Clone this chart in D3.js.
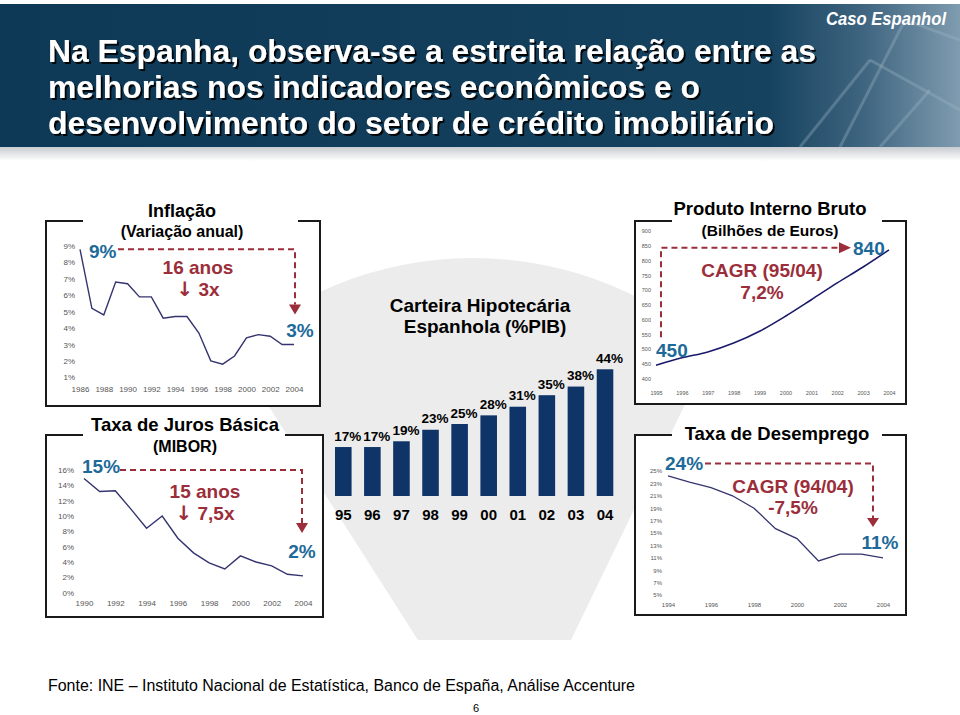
<!DOCTYPE html>
<html><head><meta charset="utf-8">
<script src="https://cdn.jsdelivr.net/npm/d3@7"></script>
<style>
html,body{margin:0;padding:0;background:#fff;}
svg{display:block;font-family:"Liberation Sans",Arial,Helvetica,sans-serif;}
</style></head><body>
<svg id="c" width="960" height="715"></svg>
<script>
// ---------- DATA ----------
const titleLines = ["Na Espanha, observa-se a estreita relação entre as",
                    "melhorias nos indicadores econômicos e o",
                    "desenvolvimento do setor de crédito imobiliário"];
const caseLabel = "Caso Espanhol";
const sourceText = "Fonte: INE – Instituto Nacional de Estatística, Banco de España, Análise Accenture";
const pageNumber = "6";

const inflationYears  = [1986,1987,1988,1989,1990,1991,1992,1993,1994,1995,1996,1997,1998,1999,2000,2001,2002,2003,2004];
const inflationValues = [8.8,5.2,4.8,6.8,6.7,5.9,5.9,4.6,4.7,4.7,3.7,2.0,1.8,2.3,3.4,3.6,3.5,3.0,3.0];
const inflationYTicks = [1,2,3,4,5,6,7,8,9];
const inflationXTicks = [1986,1988,1990,1992,1994,1996,1998,2000,2002,2004];

const interestYears  = [1990,1991,1992,1993,1994,1995,1996,1997,1998,1999,2000,2001,2002,2003,2004];
const interestValues = [14.9,13.2,13.3,10.9,8.4,10.0,7.1,5.2,3.9,3.1,4.8,4.0,3.5,2.4,2.2];
const interestYTicks = [0,2,4,6,8,10,12,14,16];
const interestXTicks = [1990,1992,1994,1996,1998,2000,2002,2004];

const mortgageYears  = ["95","96","97","98","99","00","01","02","03","04"];
const mortgageValues = [17,17,19,23,25,28,31,35,38,44];

const gdpYears  = [1995,1996,1997,1998,1999,2000,2001,2002,2003,2004];
const gdpValues = [445,470,490,520,560,611,667,724,778,836];
const gdpYTicks = [400,450,500,550,600,650,700,750,800,850,900];
const gdpXTicks = [1995,1996,1997,1998,1999,2000,2001,2002,2003,2004];

const unempYears  = [1994,1995,1996,1997,1998,1999,2000,2001,2002,2003,2004];
const unempValues = [24.2,23.2,22.3,21.0,19.0,15.7,14.1,10.5,11.6,11.6,11.0];
const unempYTicks = [5,7,9,11,13,15,17,19,21,23,25];
const unempXTicks = [1994,1996,1998,2000,2002,2004];

// ---------- STYLE ----------
const NAVY_LINE = "#34346f", BAR = "#0f3468", BLUE = "#1d6a9a", RED = "#9b2e3a", AXIS_TXT = "#555";

const svg = d3.select("#c");
const defs = svg.append("defs");

const hg = defs.append("linearGradient").attr("id","hg").attr("x1","0").attr("x2","1").attr("y1","0").attr("y2","0");
hg.append("stop").attr("offset","0").attr("stop-color","#0d3856");
hg.append("stop").attr("offset","0.80").attr("stop-color","#15425f");
hg.append("stop").attr("offset","0.90").attr("stop-color","#3f6580");
hg.append("stop").attr("offset","1").attr("stop-color","#7f9cb0");
const sg = defs.append("linearGradient").attr("id","sg").attr("x1","0").attr("x2","0").attr("y1","0").attr("y2","1");
sg.append("stop").attr("offset","0").attr("stop-color","#c8ccd0");
sg.append("stop").attr("offset","1").attr("stop-color","#ffffff");
const sh = defs.append("filter").attr("id","tshadow").attr("x","-5%").attr("y","-20%").attr("width","110%").attr("height","150%");
sh.append("feDropShadow").attr("dx",2).attr("dy",2).attr("stdDeviation",0.6)
  .attr("flood-color","#000").attr("flood-opacity",0.9);

// background grey shape
defs.append("clipPath").attr("id","vclip").append("polygon")
  .attr("points","105,150 808,150 571,640 418,640");
svg.append("circle").attr("cx",473).attr("cy",620).attr("r",362)
  .attr("fill","#ececec").attr("clip-path","url(#vclip)");

// header band
svg.append("rect").attr("x",0).attr("y",147).attr("width",960).attr("height",14).attr("fill","url(#sg)");
svg.append("rect").attr("x",0).attr("y",4).attr("width",960).attr("height",143).attr("fill","url(#hg)");
const beams = [[800,147,870,60],[870,60,960,110],[840,147,905,20],[905,20,960,40],[880,147,930,90]];
svg.append("g").selectAll("line").data(beams).join("line")
  .attr("x1",d=>d[0]).attr("y1",d=>d[1]).attr("x2",d=>d[2]).attr("y2",d=>d[3])
  .attr("stroke","#9fb4c4").attr("stroke-opacity",0.35).attr("stroke-width",3);

const titleBase = [62, 98, 134];
const titleWidth = [768, 652, 726];
const tg = svg.append("g").attr("font-family","'Liberation Sans Narrow','Liberation Sans',Arial,sans-serif")
  .attr("font-weight","bold").attr("font-size",32).attr("filter","url(#tshadow)");
titleLines.forEach((t,i)=>{
  tg.append("text").attr("x",48).attr("y",titleBase[i]).attr("fill","#fff")
    .attr("textLength",titleWidth[i]).attr("lengthAdjust","spacingAndGlyphs").text(t);
});
svg.append("text").attr("x",946).attr("y",25).attr("text-anchor","end")
  .attr("font-family","'Liberation Sans Narrow','Liberation Sans',Arial,sans-serif")
  .attr("font-style","italic").attr("font-weight","bold").attr("font-size",18).attr("fill","#fff")
  .attr("textLength",120).attr("lengthAdjust","spacingAndGlyphs").text(caseLabel);

// ---------- helpers ----------
function panelBox(l,t,r,b,g1,g2){
  svg.append("rect").attr("x",l).attr("y",t).attr("width",r-l).attr("height",b-t).attr("fill","#fff");
  svg.append("path").attr("d",`M${g1},${t}H${l}V${b}H${r}V${t}H${g2}`)
    .attr("fill","none").attr("stroke","#1a1a1a").attr("stroke-width",2);
}
function txt(x,y,s,size,opts={}){
  const t = svg.append("text").attr("x",x).attr("y",y).attr("font-size",size)
    .attr("text-anchor",opts.anchor||"middle").attr("fill",opts.fill||"#000")
    .attr("font-weight",opts.weight||"normal").text(s);
  return t;
}
function arrowTxt(x,y,s,size){
  const t = svg.append("text").attr("x",x).attr("y",y).attr("font-size",size)
    .attr("text-anchor","middle").attr("fill",RED).attr("font-weight","bold");
  t.append("tspan").attr("font-family","'DejaVu Sans',sans-serif").attr("font-size",size*1.05).text("↓");
  t.append("tspan").text(" "+s);
  return t;
}
function yAxis(scale,ticks,fmt,xRight,fs){
  const g = svg.append("g").attr("transform",`translate(${xRight},0)`)
    .call(d3.axisLeft(scale).tickValues(ticks).tickFormat(fmt).tickSize(0).tickPadding(0));
  g.select(".domain").remove();
  g.selectAll("text").attr("font-size",fs).attr("fill",AXIS_TXT).attr("font-family","'Liberation Sans',Arial,sans-serif");
}
function xAxis(scale,ticks,baseline,fs){
  const g = svg.append("g").attr("transform",`translate(0,${baseline-0.71*fs})`)
    .call(d3.axisBottom(scale).tickValues(ticks).tickFormat(d3.format("d")).tickSize(0).tickPadding(0));
  g.select(".domain").remove();
  g.selectAll("text").attr("font-size",fs).attr("fill",AXIS_TXT).attr("font-family","'Liberation Sans',Arial,sans-serif");
}
function dashed(points){
  svg.append("path").attr("d",d3.line()(points)).attr("fill","none")
    .attr("stroke",RED).attr("stroke-width",2).attr("stroke-dasharray","6,4");
}
function arrowDown(x,yBase,yTip){
  svg.append("path").attr("d",`M${x-6},${yBase}L${x+6},${yBase}L${x},${yTip}Z`).attr("fill",RED);
}
function arrowRight(xBase,xTip,y){
  svg.append("path").attr("d",`M${xBase},${y-5.5}L${xBase},${y+5.5}L${xTip},${y}Z`).attr("fill",RED);
}
const pct = d=>d+"%";

// ---------- INFLATION ----------
panelBox(46,221,320,406,83,298);
txt(182,217,"Inflação",18,{weight:"bold"});
txt(182,237,"(Variação anual)",16,{weight:"bold"});
const xI = d3.scaleLinear().domain([1986,2004]).range([80,294]);
const yI = d3.scaleLinear().domain([1,9]).range([377.3,246]);
yAxis(yI,inflationYTicks,pct,75,8);
xAxis(xI,inflationXTicks,392,8);
svg.append("path").datum(inflationYears.map((y,i)=>[y,inflationValues[i]]))
  .attr("d",d3.line().x(d=>xI(d[0])).y(d=>yI(d[1])))
  .attr("fill","none").attr("stroke",NAVY_LINE).attr("stroke-width",1.4);
{
  const yTop = yI(inflationValues[0]), xEnd = xI(2004)+1;
  dashed([[118,yTop],[xEnd,yTop],[xEnd,yI(3.0)-40]]);
  arrowDown(xEnd,yI(3.0)-40,yI(3.0)-30);
  txt(89,258,pct(9),19,{anchor:"start",fill:BLUE,weight:"bold"});
  txt(198,274,"16 anos",19,{fill:RED,weight:"bold"});
  arrowTxt(198,296,"3x",19);
  txt(300,337,pct(3),19,{fill:BLUE,weight:"bold"});
}

// ---------- INTEREST ----------
panelBox(46,435,323,617,83,285);
txt(185,431,"Taxa de Juros Básica",18.5,{weight:"bold"});
txt(185,452,"(MIBOR)",16,{weight:"bold"});
const xR = d3.scaleLinear().domain([1990,2004]).range([84,303]);
const yR = d3.scaleLinear().domain([0,16]).range([592.7,470]);
yAxis(yR,interestYTicks,pct,74,8);
xAxis(xR,interestXTicks,606,8);
svg.append("path").datum(interestYears.map((y,i)=>[y,interestValues[i]]))
  .attr("d",d3.line().x(d=>xR(d[0])).y(d=>yR(d[1])))
  .attr("fill","none").attr("stroke",NAVY_LINE).attr("stroke-width",1.4);
{
  const yTop = yR(16), xEnd = xR(2004)-1;
  dashed([[120,yTop],[xEnd,yTop],[xEnd,523]]);
  arrowDown(xEnd,523,533);
  txt(82,473,"15%",19,{anchor:"start",fill:BLUE,weight:"bold"});
  txt(205,498,"15 anos",19,{fill:RED,weight:"bold"});
  arrowTxt(205,520,"7,5x",19);
  txt(302,558,pct(2),19,{fill:BLUE,weight:"bold"});
}

// ---------- MORTGAGE BARS ----------
txt(480,312,"Carteira Hipotecária",19,{weight:"bold"});
txt(485,333,"Espanhola (%PIB)",19,{weight:"bold"});
const xB = d3.scaleBand().domain(mortgageYears).range([328.75,619.55]).paddingInner(0.43).paddingOuter(0.215);
const yB = d3.scaleLinear().domain([0,50]).range([496,352]);
svg.append("g").selectAll("rect").data(mortgageYears).join("rect")
  .attr("x",d=>xB(d)).attr("width",xB.bandwidth())
  .attr("y",(d,i)=>yB(mortgageValues[i])).attr("height",(d,i)=>yB(0)-yB(mortgageValues[i]))
  .attr("fill",BAR);
svg.append("g").selectAll("text").data(mortgageYears).join("text")
  .attr("x",d=>xB(d)+xB.bandwidth()/2+4.5).attr("y",(d,i)=>yB(mortgageValues[i])-6.5)
  .attr("text-anchor","middle").attr("font-size",13.5).attr("font-weight","bold")
  .text((d,i)=>pct(mortgageValues[i]));
svg.append("g").selectAll("text").data(mortgageYears).join("text")
  .attr("x",d=>xB(d)+xB.bandwidth()/2).attr("y",519.5)
  .attr("text-anchor","middle").attr("font-size",15).attr("font-weight","bold").text(d=>d);

// ---------- GDP ----------
panelBox(635,221,906,404,672,882);
txt(770,215,"Produto Interno Bruto",18.5,{weight:"bold"});
txt(770,236,"(Bilhões de Euros)",15.5,{weight:"bold"});
const xG = d3.scaleLinear().domain([1995,2004]).range([656,889]);
const yG = d3.scaleLinear().domain([400,900]).range([378.5,231]);
yAxis(yG,gdpYTicks,d3.format("d"),651,5.5);
xAxis(xG,gdpXTicks,395,5.5);
svg.append("path").datum(gdpYears.map((y,i)=>[y,gdpValues[i]]))
  .attr("d",d3.line().x(d=>xG(d[0])).y(d=>yG(d[1])).curve(d3.curveMonotoneX))
  .attr("fill","none").attr("stroke","#1b1a6a").attr("stroke-width",1.6);
{
  const xStart = xG(1995)+5, yTop = yG(840)-1;
  dashed([[xStart,yG(550)+3],[xStart,yTop],[840,yTop]]);
  arrowRight(839,851,yTop);
  txt(656,357,"450",19,{anchor:"start",fill:BLUE,weight:"bold"});
  txt(853,255,"840",19,{anchor:"start",fill:BLUE,weight:"bold"});
  txt(762,277,"CAGR (95/04)",19,{fill:RED,weight:"bold"});
  txt(762,299,"7,2%",19,{fill:RED,weight:"bold"});
}

// ---------- UNEMPLOYMENT ----------
panelBox(635,435,906,615,672,882);
txt(777,440,"Taxa de Desemprego",18.5,{weight:"bold"});
const xU = d3.scaleLinear().domain([1994,2004]).range([668,883]);
const yU = d3.scaleLinear().domain([5,25]).range([595,471]);
yAxis(yU,unempYTicks,pct,662,6);
xAxis(xU,unempXTicks,607,6);
svg.append("path").datum(unempYears.map((y,i)=>[y,unempValues[i]]))
  .attr("d",d3.line().x(d=>xU(d[0])).y(d=>yU(d[1])))
  .attr("fill","none").attr("stroke",NAVY_LINE).attr("stroke-width",1.3);
{
  const yTop = 463.5, xEnd = xU(2004)-10;
  dashed([[705,yTop],[xEnd,yTop],[xEnd,518]]);
  arrowDown(xEnd,518,527);
  txt(665,470,"24%",19,{anchor:"start",fill:BLUE,weight:"bold"});
  txt(793,493,"CAGR (94/04)",19,{fill:RED,weight:"bold"});
  txt(793,514,"-7,5%",19,{fill:RED,weight:"bold"});
  txt(880,549,"11%",19,{fill:BLUE,weight:"bold"});
}

// ---------- FOOTER ----------
svg.append("text").attr("x",48).attr("y",691).attr("font-size",16)
  .attr("font-family","'Liberation Sans Narrow','Liberation Sans',Arial,sans-serif")
  .attr("textLength",587).attr("lengthAdjust","spacingAndGlyphs").text(sourceText);
txt(476,712,pageNumber,11);
</script>
</body></html>
